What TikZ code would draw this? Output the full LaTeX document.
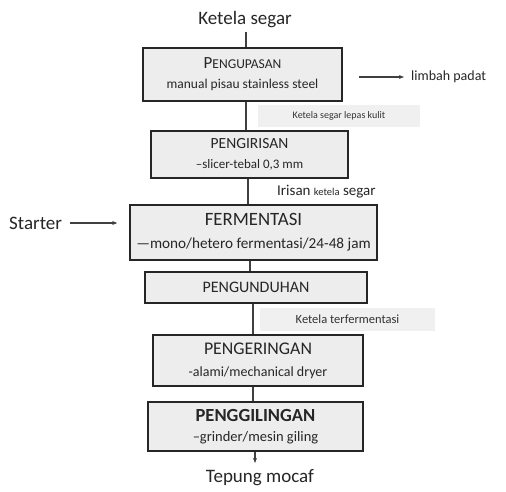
\documentclass[tikz,border=0pt]{standalone}
\usepackage{fontspec}
\setmainfont{Carlito}
\usetikzlibrary{arrows.meta, positioning}

\begin{document}
\begin{tikzpicture}[x=1pt, y=-1pt]
    \tikzstyle{link}=[line width=1.1pt, draw=black!75]
    \tikzstyle{procbox}=[draw=black!85, line width=1.8pt, fill=black!7, align=center, inner sep=0pt, text=black!85]
    \tikzstyle{notebox}=[fill=black!6, draw=none, inner sep=0pt, text=black!80]
    \tikzstyle{bigtxt}=[font=\fontsize{19}{21}\selectfont, inner sep=0pt, text=black!85]
    \tikzstyle{flow}=[link, -{Stealth[length=5pt,width=4pt]}]
    \useasboundingbox (0,0) rectangle (506,492);
    % inputs and outputs
    \node [bigtxt] (in) at (245,20) {Ketela segar};
    \node [bigtxt] (out) at (260,478) {Tepung mocaf};
    \node [bigtxt, anchor=west] (starter) at (9,223) {Starter};
    \node [font=\fontsize{14}{16}\selectfont, inner sep=0pt, anchor=west, text=black!85] (waste) at (411,77) {limbah padat};
    % process steps
    \node [procbox, minimum width=199, minimum height=53, font=\fontsize{13.5}{20}\selectfont] (peel) at (242.5,74.5)
        {{\fontsize{17}{19}\selectfont P\fontsize{13.5}{19}\selectfont ENGUPASAN}\\
         manual pisau stainless steel};
    \node [procbox, minimum width=197, minimum height=47, font=\fontsize{13}{20}\selectfont] (slice) at (249.5,154.5)
        {{\fontsize{15.5}{17}\selectfont PENGIRISAN}\\
         –slicer-tebal 0,3 mm};
    \node [procbox, minimum width=247, minimum height=55, font=\fontsize{15.2}{23}\selectfont] (ferm) at (253.5,232.5)
        {{\fontsize{18.8}{21}\selectfont FERMENTASI}\\
         —mono/hetero fermentasi/24-48 jam};
    \node [procbox, minimum width=222, minimum height=31, font=\fontsize{16}{20}\selectfont] (harvest) at (256,287.5)
        {PENGUNDUHAN};
    \node [procbox, minimum width=210, minimum height=51, font=\fontsize{14}{22}\selectfont] (dry) at (258,360.5)
        {{\fontsize{17.8}{20}\selectfont PENGERINGAN}\\
         -alami/mechanical dryer};
    \node [procbox, minimum width=215, minimum height=49, font=\fontsize{14.5}{20}\selectfont] (mill) at (255.5,426.5)
        {{\fontsize{18.5}{20}\selectfont\bfseries PENGGILINGAN}\\
         –grinder/mesin giling};
    % intermediate products
    \node [notebox, font=\fontsize{10}{12}\selectfont, minimum width=162, minimum height=22] (peeled) at (339,116) {Ketela segar lepas kulit};
    \node [inner sep=0pt, anchor=west, text=black!85] (slices) at (277,192)
        {\fontsize{15}{17}\selectfont Irisan {\fontsize{10.5}{12}\selectfont ketela} segar};
    \node [notebox, font=\fontsize{12.5}{14}\selectfont, minimum width=175, minimum height=23] (fermented) at (347.5,319.5) {Ketela terfermentasi};
    % spine of the flow
    \coordinate (sa) at (246,0);
    \coordinate (sb) at (248,0);
    \coordinate (sc) at (250,0);
    \coordinate (sd) at (253,0);
    \coordinate (se) at (255,0);
    \draw [link] (in.south -| sa) ++(0,4) -- (peel.north -| sa);
    \draw [link] (peel.south -| sa) -- (slice.north -| sa);
    \draw [link] (slice.south -| sb) -- (ferm.north -| sb);
    \draw [link] (ferm.south -| sc) -- (harvest.north -| sc);
    \draw [link] (harvest.south -| sd) -- (dry.north -| sd);
    \draw [link] (dry.south -| sd) -- (mill.north -| sd);
    \draw [flow] (mill.south -| se) -- ++(0,11);
    % side streams
    \draw [flow] (starter.east) ++(8,0) -- ++(47,0);
    \draw [flow] (peel.east |- waste) ++(16,0) -- ++(45,0);
\end{tikzpicture}
\end{document}
